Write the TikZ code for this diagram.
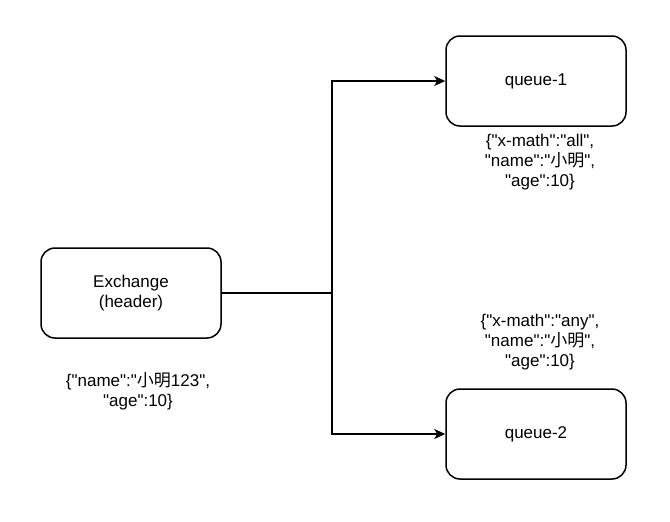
\documentclass[tikz,border=0pt]{standalone}
\usepackage{fontspec}
\newfontfamily\arial{Liberation Sans}
\newfontfamily\cjk{Noto Sans CJK SC}
\usetikzlibrary{arrows.meta}
\begin{document}
\begin{tikzpicture}[x=1pt,y=-1pt,
  box/.style={draw=black,line width=1.5pt,rounded corners=14pt,minimum width=180pt,minimum height=90pt,inner sep=0pt,font=\arial\fontsize{17}{20}\selectfont,align=center},
  lbl/.style={inner sep=0pt,font=\arial\fontsize{17}{20}\selectfont,align=center},
  conn/.style={line width=1.5pt,-{Stealth[length=11pt,width=10pt,inset=3pt]}}]
\useasboundingbox (0,0) rectangle (670,522);
\node[box] (ex) at (131,293) {Exchange\\(header)};
\node[box] (q1) at (536,81) {queue-1};
\node[box] (q2) at (536,434) {queue-2};
\coordinate (j) at (332,293);
\node[lbl] (t1) at (540,162) {\{"x-math":"all",\\"name":"{\cjk 小明}",\\"age":10\}};
\node[lbl] (t2) at (540,342) {\{"x-math":"any",\\"name":"{\cjk 小明}",\\"age":10\}};
\node[lbl] (t3) at (138,391) {\{"name":"{\cjk 小明}123",\\"age":10\}};
\draw[line width=1.5pt] (ex.east) -- (j);
\draw[conn] (j) |- (q1.west);
\draw[conn] (j) |- (q2.west);
\end{tikzpicture}
\end{document}
